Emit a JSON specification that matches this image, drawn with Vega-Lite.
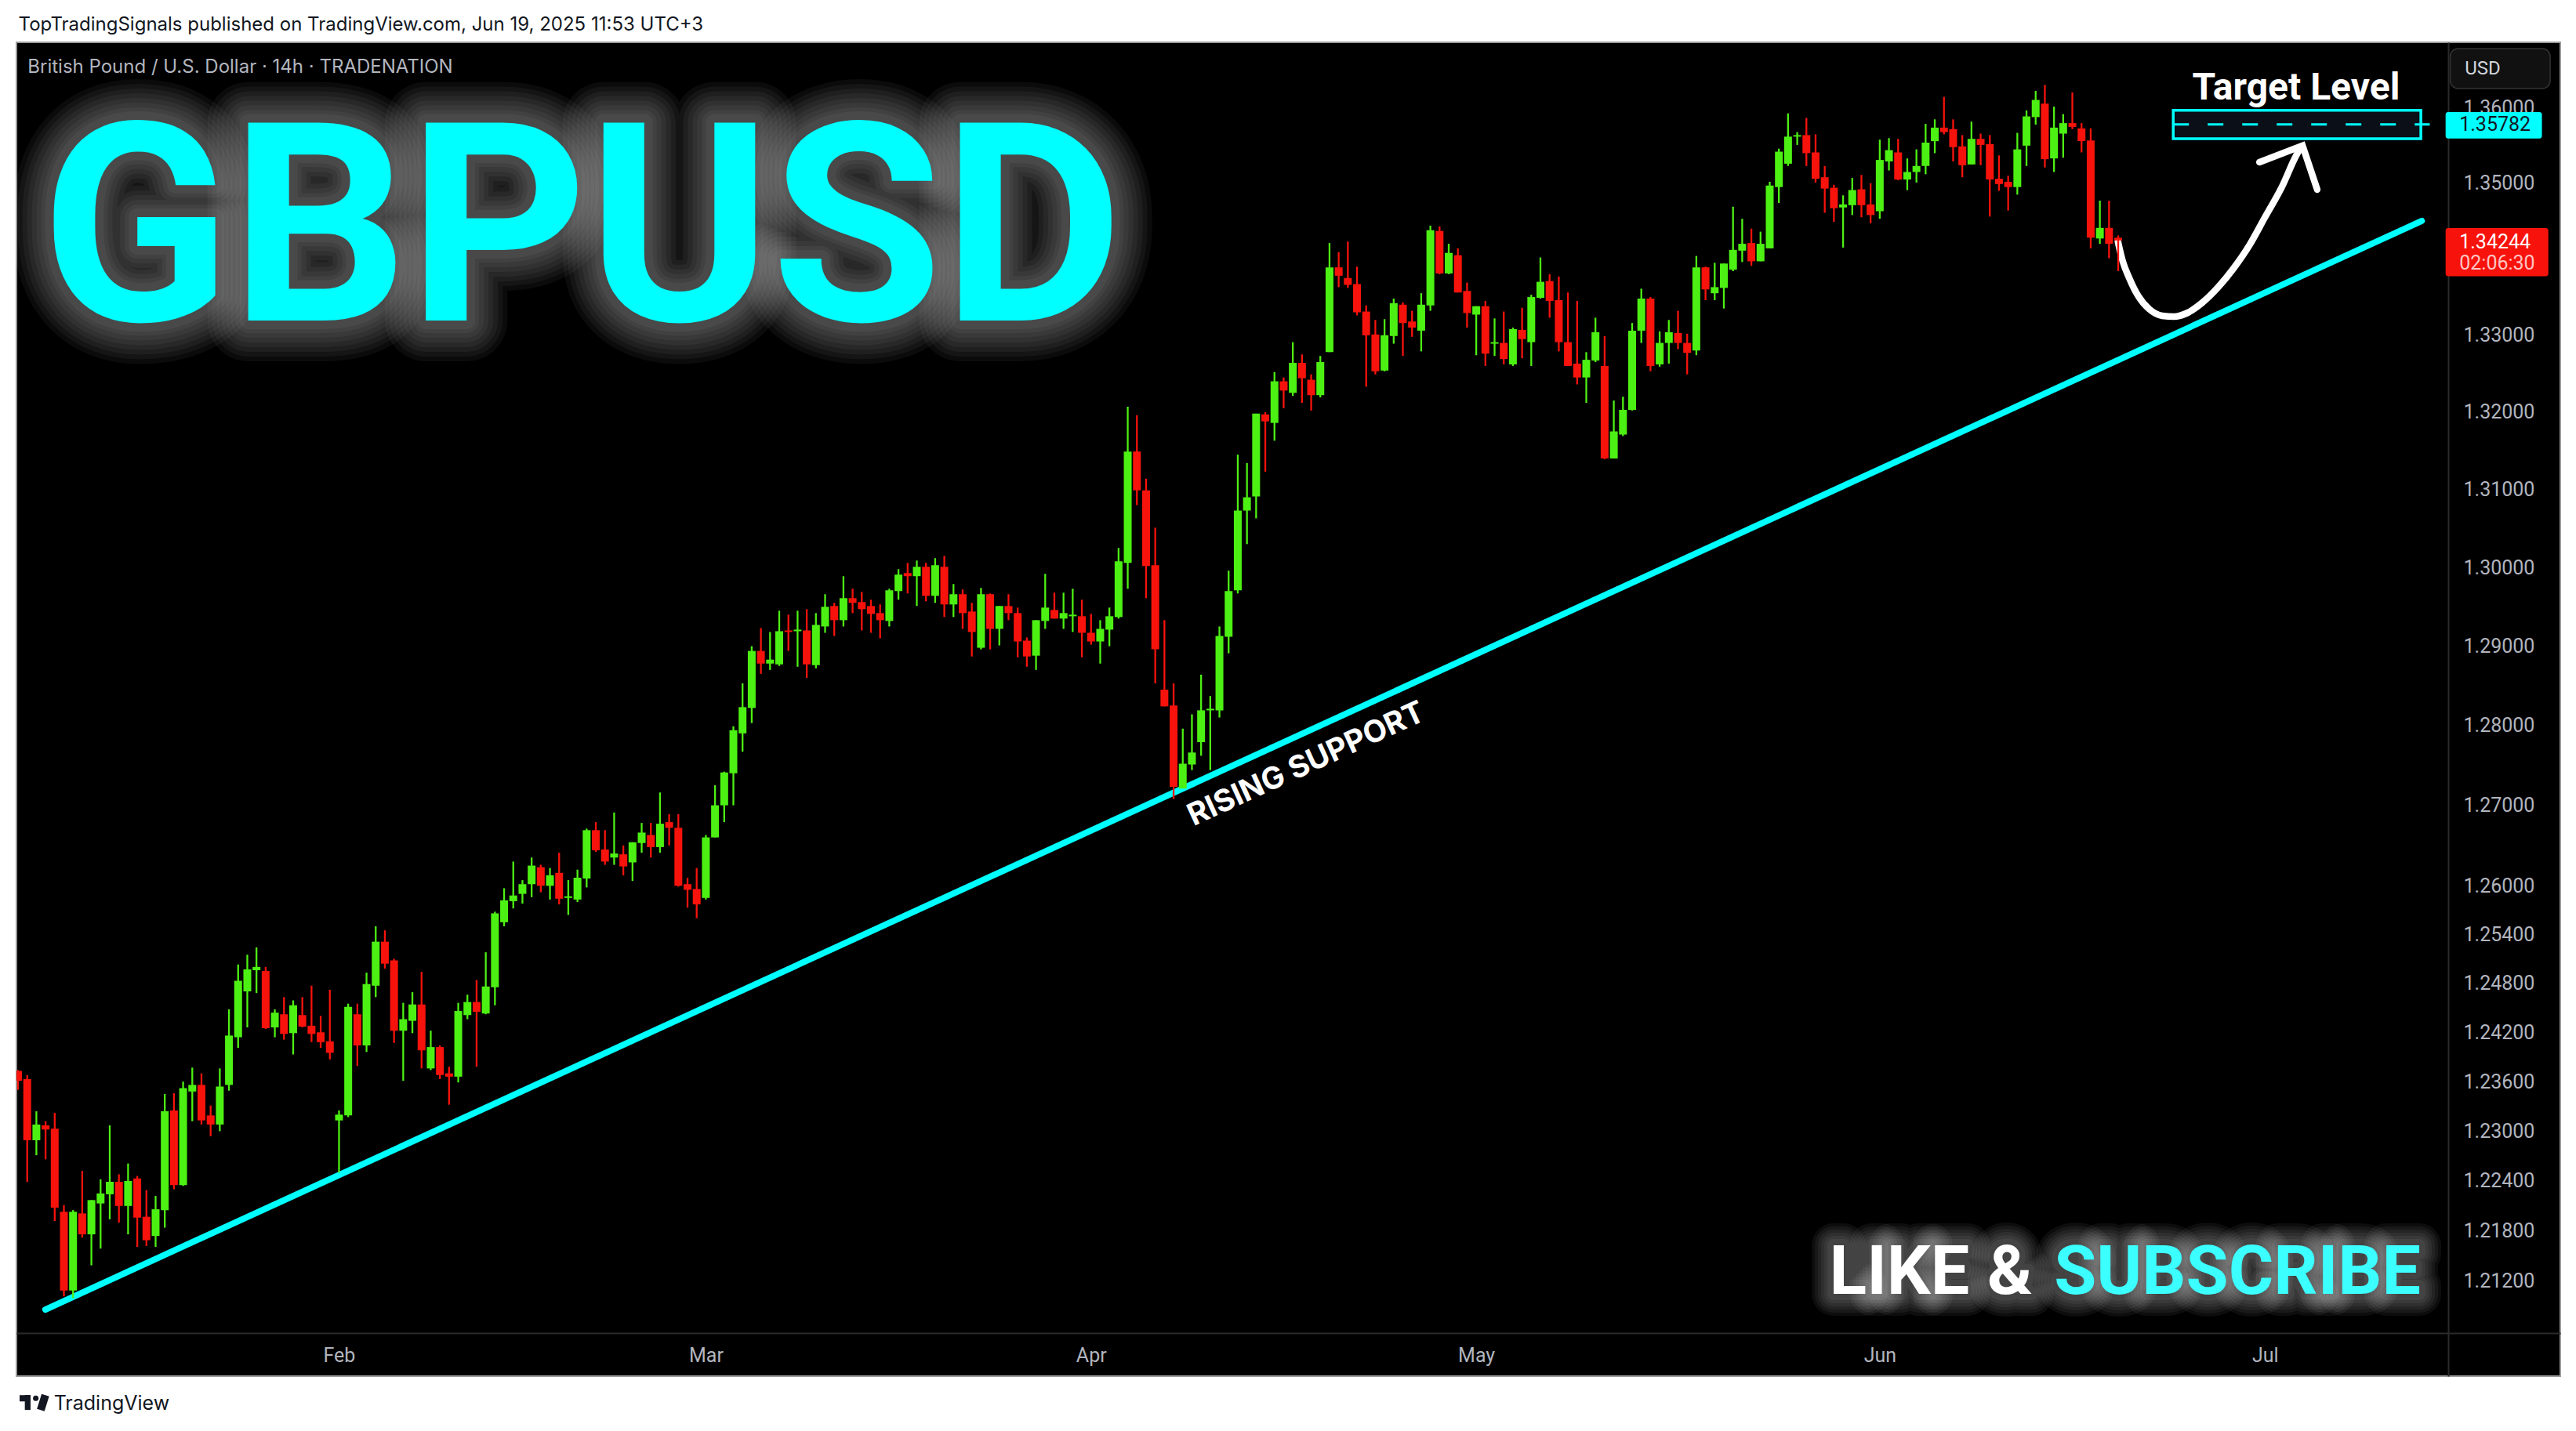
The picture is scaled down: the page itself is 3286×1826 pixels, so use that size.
{"$schema":"https://vega.github.io/schema/vega-lite/v6.json","width":3245,"height":1702,"autosize":"none","padding":{"left":21,"top":54,"right":20,"bottom":70},"background":"#ffffff","view":{"fill":"#000000","stroke":"#9a9a9a","strokeWidth":2},
"datasets":{
"title":[{"bar":61.5,"price":1.33193,"label":"GBPUSD"}],
"like":[{"bar":197.5,"price":1.21051,"label":"LIKE"},{"bar":214.7,"price":1.21051,"label":"&"},{"bar":222.0,"price":1.21051,"label":"SUBSCRIBE"}],
"trend":[{"bar":2.98,"price":1.20864},{"bar":262.1,"price":1.34502}],
"curve":[{"bar":228.97,"price":1.3423},{"bar":229.48,"price":1.33975},{"bar":230.2,"price":1.3375},{"bar":231.2,"price":1.3351},{"bar":232.4,"price":1.3334},{"bar":233.8,"price":1.33255},{"bar":235.1,"price":1.33244},{"bar":236.4,"price":1.33285},{"bar":238.1,"price":1.3342},{"bar":239.9,"price":1.3363},{"bar":241.6,"price":1.3388},{"bar":243.3,"price":1.3418},{"bar":245.0,"price":1.3455},{"bar":246.8,"price":1.3494},{"bar":248.5,"price":1.3539},{"bar":249.0,"price":1.3549}],
"arrow":[{"bar":244.4,"price":1.3528},{"bar":249.1,"price":1.355},{"bar":250.7,"price":1.34917}],
"candles":[
{"bar":0,"open":1.2373,"high":1.2374,"low":1.2350,"close":1.2361},
{"bar":1,"open":1.2363,"high":1.2368,"low":1.2239,"close":1.2289},
{"bar":2,"open":1.2289,"high":1.2324,"low":1.2271,"close":1.2308},
{"bar":3,"open":1.2307,"high":1.2312,"low":1.2266,"close":1.2302},
{"bar":4,"open":1.2303,"high":1.2322,"low":1.2192,"close":1.2208},
{"bar":5,"open":1.2203,"high":1.2211,"low":1.2102,"close":1.2109},
{"bar":6,"open":1.2109,"high":1.2205,"low":1.2100,"close":1.2203},
{"bar":7,"open":1.2201,"high":1.2252,"low":1.2172,"close":1.2176},
{"bar":8,"open":1.2176,"high":1.2217,"low":1.2139,"close":1.2217},
{"bar":9,"open":1.2213,"high":1.2242,"low":1.2159,"close":1.2225},
{"bar":10,"open":1.2224,"high":1.2307,"low":1.2194,"close":1.2239},
{"bar":11,"open":1.2239,"high":1.2248,"low":1.2190,"close":1.2210},
{"bar":12,"open":1.2210,"high":1.2261,"low":1.2176,"close":1.2240},
{"bar":13,"open":1.2243,"high":1.2246,"low":1.2161,"close":1.2196},
{"bar":14,"open":1.2197,"high":1.2229,"low":1.2162,"close":1.2169},
{"bar":15,"open":1.2174,"high":1.2222,"low":1.2161,"close":1.2206},
{"bar":16,"open":1.2205,"high":1.2345,"low":1.2184,"close":1.2324},
{"bar":17,"open":1.2325,"high":1.2346,"low":1.2230,"close":1.2235},
{"bar":18,"open":1.2235,"high":1.2360,"low":1.2234,"close":1.2352},
{"bar":19,"open":1.2348,"high":1.2377,"low":1.2312,"close":1.2356},
{"bar":20,"open":1.2356,"high":1.2370,"low":1.2308,"close":1.2313},
{"bar":21,"open":1.2319,"high":1.2331,"low":1.2294,"close":1.2308},
{"bar":22,"open":1.2308,"high":1.2376,"low":1.2300,"close":1.2354},
{"bar":23,"open":1.2356,"high":1.2448,"low":1.2349,"close":1.2416},
{"bar":24,"open":1.2414,"high":1.2503,"low":1.2401,"close":1.2483},
{"bar":25,"open":1.2470,"high":1.2515,"low":1.2426,"close":1.2497},
{"bar":26,"open":1.2496,"high":1.2524,"low":1.2468,"close":1.2500},
{"bar":27,"open":1.2495,"high":1.2500,"low":1.2424,"close":1.2425},
{"bar":28,"open":1.2426,"high":1.2448,"low":1.2414,"close":1.2444},
{"bar":29,"open":1.2442,"high":1.2463,"low":1.2411,"close":1.2418},
{"bar":30,"open":1.2419,"high":1.2459,"low":1.2393,"close":1.2453},
{"bar":31,"open":1.2441,"high":1.2463,"low":1.2426,"close":1.2427},
{"bar":32,"open":1.2428,"high":1.2477,"low":1.2408,"close":1.2418},
{"bar":33,"open":1.2420,"high":1.2440,"low":1.2401,"close":1.2408},
{"bar":34,"open":1.2409,"high":1.2472,"low":1.2387,"close":1.2395},
{"bar":35,"open":1.2313,"high":1.2325,"low":1.2250,"close":1.2320},
{"bar":36,"open":1.2319,"high":1.2455,"low":1.2317,"close":1.2451},
{"bar":37,"open":1.2442,"high":1.2455,"low":1.2379,"close":1.2404},
{"bar":38,"open":1.2404,"high":1.2493,"low":1.2396,"close":1.2479},
{"bar":39,"open":1.2477,"high":1.2550,"low":1.2463,"close":1.2531},
{"bar":40,"open":1.2531,"high":1.2545,"low":1.2498,"close":1.2504},
{"bar":41,"open":1.2508,"high":1.2510,"low":1.2407,"close":1.2422},
{"bar":42,"open":1.2422,"high":1.2456,"low":1.2361,"close":1.2436},
{"bar":43,"open":1.2434,"high":1.2469,"low":1.2419,"close":1.2454},
{"bar":44,"open":1.2454,"high":1.2494,"low":1.2376,"close":1.2398},
{"bar":45,"open":1.2376,"high":1.2422,"low":1.2374,"close":1.2402},
{"bar":46,"open":1.2402,"high":1.2404,"low":1.2363,"close":1.2368},
{"bar":47,"open":1.2370,"high":1.2378,"low":1.2332,"close":1.2366},
{"bar":48,"open":1.2366,"high":1.2456,"low":1.2359,"close":1.2446},
{"bar":49,"open":1.2441,"high":1.2466,"low":1.2436,"close":1.2457},
{"bar":50,"open":1.2457,"high":1.2484,"low":1.2378,"close":1.2445},
{"bar":51,"open":1.2443,"high":1.2518,"low":1.2442,"close":1.2476},
{"bar":52,"open":1.2475,"high":1.2568,"low":1.2453,"close":1.2566},
{"bar":53,"open":1.2555,"high":1.2597,"low":1.2550,"close":1.2582},
{"bar":54,"open":1.2581,"high":1.2630,"low":1.2572,"close":1.2588},
{"bar":55,"open":1.2590,"high":1.2607,"low":1.2578,"close":1.2602},
{"bar":56,"open":1.2602,"high":1.2635,"low":1.2586,"close":1.2625},
{"bar":57,"open":1.2623,"high":1.2626,"low":1.2592,"close":1.2600},
{"bar":58,"open":1.2600,"high":1.2622,"low":1.2583,"close":1.2613},
{"bar":59,"open":1.2616,"high":1.2641,"low":1.2577,"close":1.2584},
{"bar":60,"open":1.2585,"high":1.2607,"low":1.2564,"close":1.2587},
{"bar":61,"open":1.2583,"high":1.2620,"low":1.2580,"close":1.2610},
{"bar":62,"open":1.2609,"high":1.2671,"low":1.2598,"close":1.2669},
{"bar":63,"open":1.2669,"high":1.2679,"low":1.2642,"close":1.2644},
{"bar":64,"open":1.2645,"high":1.2669,"low":1.2626,"close":1.2630},
{"bar":65,"open":1.2635,"high":1.2691,"low":1.2626,"close":1.2640},
{"bar":66,"open":1.2639,"high":1.2650,"low":1.2613,"close":1.2624},
{"bar":67,"open":1.2629,"high":1.2654,"low":1.2606,"close":1.2654},
{"bar":68,"open":1.2653,"high":1.2678,"low":1.2641,"close":1.2666},
{"bar":69,"open":1.2663,"high":1.2678,"low":1.2635,"close":1.2648},
{"bar":70,"open":1.2648,"high":1.2716,"low":1.2641,"close":1.2677},
{"bar":71,"open":1.2679,"high":1.2689,"low":1.2650,"close":1.2672},
{"bar":72,"open":1.2672,"high":1.2689,"low":1.2599,"close":1.2600},
{"bar":73,"open":1.2602,"high":1.2610,"low":1.2573,"close":1.2595},
{"bar":74,"open":1.2596,"high":1.2622,"low":1.2560,"close":1.2577},
{"bar":75,"open":1.2585,"high":1.2663,"low":1.2583,"close":1.2660},
{"bar":76,"open":1.2660,"high":1.2725,"low":1.2660,"close":1.2700},
{"bar":77,"open":1.2700,"high":1.2742,"low":1.2679,"close":1.2741},
{"bar":78,"open":1.2740,"high":1.2799,"low":1.2700,"close":1.2794},
{"bar":79,"open":1.2790,"high":1.2853,"low":1.2767,"close":1.2823},
{"bar":80,"open":1.2822,"high":1.2900,"low":1.2803,"close":1.2894},
{"bar":81,"open":1.2894,"high":1.2923,"low":1.2865,"close":1.2878},
{"bar":82,"open":1.2878,"high":1.2918,"low":1.2870,"close":1.2883},
{"bar":83,"open":1.2877,"high":1.2945,"low":1.2875,"close":1.2919},
{"bar":84,"open":1.2920,"high":1.2940,"low":1.2894,"close":1.2918},
{"bar":85,"open":1.2919,"high":1.2945,"low":1.2874,"close":1.2921},
{"bar":86,"open":1.2920,"high":1.2947,"low":1.2860,"close":1.2877},
{"bar":87,"open":1.2876,"high":1.2942,"low":1.2872,"close":1.2927},
{"bar":88,"open":1.2925,"high":1.2966,"low":1.2917,"close":1.2950},
{"bar":89,"open":1.2951,"high":1.2955,"low":1.2913,"close":1.2933},
{"bar":90,"open":1.2933,"high":1.2989,"low":1.2925,"close":1.2961},
{"bar":91,"open":1.2961,"high":1.2973,"low":1.2942,"close":1.2955},
{"bar":92,"open":1.2956,"high":1.2969,"low":1.2920,"close":1.2947},
{"bar":93,"open":1.2951,"high":1.2959,"low":1.2917,"close":1.2941},
{"bar":94,"open":1.2942,"high":1.2953,"low":1.2910,"close":1.2933},
{"bar":95,"open":1.2932,"high":1.2973,"low":1.2925,"close":1.2971},
{"bar":96,"open":1.2970,"high":1.2998,"low":1.2959,"close":1.2991},
{"bar":97,"open":1.2993,"high":1.3006,"low":1.2967,"close":1.2989},
{"bar":98,"open":1.2989,"high":1.3009,"low":1.2951,"close":1.3001},
{"bar":99,"open":1.3001,"high":1.3006,"low":1.2957,"close":1.2964},
{"bar":100,"open":1.2964,"high":1.3012,"low":1.2955,"close":1.3003},
{"bar":101,"open":1.3001,"high":1.3015,"low":1.2937,"close":1.2953},
{"bar":102,"open":1.2953,"high":1.2979,"low":1.2937,"close":1.2966},
{"bar":103,"open":1.2966,"high":1.2972,"low":1.2922,"close":1.2942},
{"bar":104,"open":1.2944,"high":1.2955,"low":1.2887,"close":1.2918},
{"bar":105,"open":1.2898,"high":1.2974,"low":1.2896,"close":1.2966},
{"bar":106,"open":1.2966,"high":1.2967,"low":1.2896,"close":1.2922},
{"bar":107,"open":1.2922,"high":1.2951,"low":1.2901,"close":1.2951},
{"bar":108,"open":1.2951,"high":1.2966,"low":1.2933,"close":1.2942},
{"bar":109,"open":1.2942,"high":1.2949,"low":1.2886,"close":1.2906},
{"bar":110,"open":1.2907,"high":1.2911,"low":1.2874,"close":1.2887},
{"bar":111,"open":1.2888,"high":1.2933,"low":1.2870,"close":1.2933},
{"bar":112,"open":1.2932,"high":1.2992,"low":1.2922,"close":1.2949},
{"bar":113,"open":1.2946,"high":1.2968,"low":1.2935,"close":1.2935},
{"bar":114,"open":1.2935,"high":1.2968,"low":1.2922,"close":1.2942},
{"bar":115,"open":1.2938,"high":1.2973,"low":1.2918,"close":1.2940},
{"bar":116,"open":1.2938,"high":1.2959,"low":1.2886,"close":1.2917},
{"bar":117,"open":1.2917,"high":1.2941,"low":1.2902,"close":1.2906},
{"bar":118,"open":1.2906,"high":1.2933,"low":1.2878,"close":1.2922},
{"bar":119,"open":1.2921,"high":1.2949,"low":1.2900,"close":1.2938},
{"bar":120,"open":1.2937,"high":1.3025,"low":1.2935,"close":1.3008},
{"bar":121,"open":1.3006,"high":1.3207,"low":1.2973,"close":1.3149},
{"bar":122,"open":1.3149,"high":1.3196,"low":1.3080,"close":1.3099},
{"bar":123,"open":1.3099,"high":1.3114,"low":1.2961,"close":1.3002},
{"bar":124,"open":1.3003,"high":1.3051,"low":1.2853,"close":1.2896},
{"bar":125,"open":1.2845,"high":1.2933,"low":1.2824,"close":1.2824},
{"bar":126,"open":1.2825,"high":1.2853,"low":1.2708,"close":1.2723},
{"bar":127,"open":1.2721,"high":1.2796,"low":1.2721,"close":1.2752},
{"bar":128,"open":1.2751,"high":1.2814,"low":1.2744,"close":1.2766},
{"bar":129,"open":1.2779,"high":1.2864,"low":1.2762,"close":1.2819},
{"bar":130,"open":1.2819,"high":1.2837,"low":1.2744,"close":1.2821},
{"bar":131,"open":1.2819,"high":1.2925,"low":1.2810,"close":1.2913},
{"bar":132,"open":1.2912,"high":1.2996,"low":1.2891,"close":1.2970},
{"bar":133,"open":1.2971,"high":1.3145,"low":1.2967,"close":1.3073},
{"bar":134,"open":1.3073,"high":1.3134,"low":1.3030,"close":1.3090},
{"bar":135,"open":1.3091,"high":1.3198,"low":1.3063,"close":1.3198},
{"bar":136,"open":1.3197,"high":1.3200,"low":1.3123,"close":1.3188},
{"bar":137,"open":1.3186,"high":1.3252,"low":1.3163,"close":1.3240},
{"bar":138,"open":1.3240,"high":1.3245,"low":1.3205,"close":1.3228},
{"bar":139,"open":1.3225,"high":1.3291,"low":1.3221,"close":1.3264},
{"bar":140,"open":1.3264,"high":1.3275,"low":1.3212,"close":1.3244},
{"bar":141,"open":1.3242,"high":1.3249,"low":1.3202,"close":1.3222},
{"bar":142,"open":1.3222,"high":1.3273,"low":1.3219,"close":1.3265},
{"bar":143,"open":1.3278,"high":1.3421,"low":1.3278,"close":1.3389},
{"bar":144,"open":1.3389,"high":1.3409,"low":1.3363,"close":1.3378},
{"bar":145,"open":1.3375,"high":1.3423,"low":1.3362,"close":1.3366},
{"bar":146,"open":1.3367,"high":1.3390,"low":1.3326,"close":1.3330},
{"bar":147,"open":1.3331,"high":1.3339,"low":1.3233,"close":1.3300},
{"bar":148,"open":1.3301,"high":1.3320,"low":1.3249,"close":1.3253},
{"bar":149,"open":1.3254,"high":1.3321,"low":1.3253,"close":1.3300},
{"bar":150,"open":1.3299,"high":1.3348,"low":1.3289,"close":1.3342},
{"bar":151,"open":1.3340,"high":1.3343,"low":1.3273,"close":1.3316},
{"bar":152,"open":1.3318,"high":1.3332,"low":1.3298,"close":1.3310},
{"bar":153,"open":1.3306,"high":1.3355,"low":1.3279,"close":1.3340},
{"bar":154,"open":1.3339,"high":1.3444,"low":1.3332,"close":1.3438},
{"bar":155,"open":1.3437,"high":1.3443,"low":1.3380,"close":1.3381},
{"bar":156,"open":1.3381,"high":1.3420,"low":1.3380,"close":1.3408},
{"bar":157,"open":1.3405,"high":1.3414,"low":1.3356,"close":1.3356},
{"bar":158,"open":1.3358,"high":1.3369,"low":1.3310,"close":1.3329},
{"bar":159,"open":1.3327,"high":1.3338,"low":1.3274,"close":1.3338},
{"bar":160,"open":1.3338,"high":1.3345,"low":1.3260,"close":1.3276},
{"bar":161,"open":1.3289,"high":1.3322,"low":1.3273,"close":1.3291},
{"bar":162,"open":1.3290,"high":1.3331,"low":1.3262,"close":1.3269},
{"bar":163,"open":1.3262,"high":1.3310,"low":1.3260,"close":1.3308},
{"bar":164,"open":1.3307,"high":1.3336,"low":1.3270,"close":1.3295},
{"bar":165,"open":1.3291,"high":1.3353,"low":1.3260,"close":1.3350},
{"bar":166,"open":1.3349,"high":1.3402,"low":1.3348,"close":1.3370},
{"bar":167,"open":1.3371,"high":1.3380,"low":1.3323,"close":1.3345},
{"bar":168,"open":1.3346,"high":1.3377,"low":1.3279,"close":1.3291},
{"bar":169,"open":1.3291,"high":1.3356,"low":1.3260,"close":1.3260},
{"bar":170,"open":1.3263,"high":1.3345,"low":1.3236,"close":1.3245},
{"bar":171,"open":1.3245,"high":1.3278,"low":1.3212,"close":1.3268},
{"bar":172,"open":1.3267,"high":1.3323,"low":1.3265,"close":1.3304},
{"bar":173,"open":1.3260,"high":1.3299,"low":1.3139,"close":1.3140},
{"bar":174,"open":1.3140,"high":1.3215,"low":1.3140,"close":1.3175},
{"bar":175,"open":1.3171,"high":1.3220,"low":1.3169,"close":1.3203},
{"bar":176,"open":1.3203,"high":1.3316,"low":1.3202,"close":1.3306},
{"bar":177,"open":1.3306,"high":1.3361,"low":1.3290,"close":1.3348},
{"bar":178,"open":1.3348,"high":1.3350,"low":1.3253,"close":1.3260},
{"bar":179,"open":1.3262,"high":1.3305,"low":1.3259,"close":1.3290},
{"bar":180,"open":1.3290,"high":1.3320,"low":1.3263,"close":1.3304},
{"bar":181,"open":1.3303,"high":1.3332,"low":1.3282,"close":1.3290},
{"bar":182,"open":1.3290,"high":1.3302,"low":1.3249,"close":1.3277},
{"bar":183,"open":1.3280,"high":1.3404,"low":1.3274,"close":1.3389},
{"bar":184,"open":1.3389,"high":1.3390,"low":1.3346,"close":1.3360},
{"bar":185,"open":1.3355,"high":1.3395,"low":1.3346,"close":1.3363},
{"bar":186,"open":1.3362,"high":1.3394,"low":1.3335,"close":1.3394},
{"bar":187,"open":1.3386,"high":1.3469,"low":1.3384,"close":1.3412},
{"bar":188,"open":1.3411,"high":1.3453,"low":1.3396,"close":1.3420},
{"bar":189,"open":1.3421,"high":1.3440,"low":1.3391,"close":1.3397},
{"bar":190,"open":1.3397,"high":1.3436,"low":1.3397,"close":1.3420},
{"bar":191,"open":1.3414,"high":1.3502,"low":1.3414,"close":1.3497},
{"bar":192,"open":1.3495,"high":1.3546,"low":1.3474,"close":1.3542},
{"bar":193,"open":1.3526,"high":1.3593,"low":1.3523,"close":1.3562},
{"bar":194,"open":1.3562,"high":1.3568,"low":1.3551,"close":1.3564},
{"bar":195,"open":1.3564,"high":1.3587,"low":1.3523,"close":1.3540},
{"bar":196,"open":1.3541,"high":1.3565,"low":1.3501,"close":1.3506},
{"bar":197,"open":1.3508,"high":1.3523,"low":1.3461,"close":1.3493},
{"bar":198,"open":1.3494,"high":1.3498,"low":1.3449,"close":1.3467},
{"bar":199,"open":1.3468,"high":1.3484,"low":1.3415,"close":1.3472},
{"bar":200,"open":1.3471,"high":1.3507,"low":1.3458,"close":1.3491},
{"bar":201,"open":1.3492,"high":1.3511,"low":1.3455,"close":1.3471},
{"bar":202,"open":1.3472,"high":1.3500,"low":1.3447,"close":1.3458},
{"bar":203,"open":1.3463,"high":1.3558,"low":1.3453,"close":1.3531},
{"bar":204,"open":1.3529,"high":1.3560,"low":1.3517,"close":1.3544},
{"bar":205,"open":1.3541,"high":1.3559,"low":1.3504,"close":1.3505},
{"bar":206,"open":1.3505,"high":1.3533,"low":1.3491,"close":1.3515},
{"bar":207,"open":1.3515,"high":1.3545,"low":1.3501,"close":1.3523},
{"bar":208,"open":1.3523,"high":1.3579,"low":1.3512,"close":1.3554},
{"bar":209,"open":1.3556,"high":1.3585,"low":1.3540,"close":1.3574},
{"bar":210,"open":1.3574,"high":1.3615,"low":1.3565,"close":1.3568},
{"bar":211,"open":1.3572,"high":1.3585,"low":1.3529,"close":1.3548},
{"bar":212,"open":1.3549,"high":1.3564,"low":1.3508,"close":1.3524},
{"bar":213,"open":1.3525,"high":1.3582,"low":1.3525,"close":1.3559},
{"bar":214,"open":1.3559,"high":1.3566,"low":1.3524,"close":1.3551},
{"bar":215,"open":1.3552,"high":1.3564,"low":1.3456,"close":1.3505},
{"bar":216,"open":1.3506,"high":1.3537,"low":1.3490,"close":1.3499},
{"bar":217,"open":1.3502,"high":1.3510,"low":1.3464,"close":1.3495},
{"bar":218,"open":1.3495,"high":1.3567,"low":1.3485,"close":1.3545},
{"bar":219,"open":1.3550,"high":1.3597,"low":1.3523,"close":1.3589},
{"bar":220,"open":1.3588,"high":1.3623,"low":1.3578,"close":1.3611},
{"bar":221,"open":1.3606,"high":1.3631,"low":1.3521,"close":1.3532},
{"bar":222,"open":1.3533,"high":1.3602,"low":1.3515,"close":1.3574},
{"bar":223,"open":1.3566,"high":1.3592,"low":1.3534,"close":1.3580},
{"bar":224,"open":1.3580,"high":1.3621,"low":1.3572,"close":1.3575},
{"bar":225,"open":1.3573,"high":1.3580,"low":1.3541,"close":1.3556},
{"bar":226,"open":1.3557,"high":1.3573,"low":1.3414,"close":1.3428},
{"bar":227,"open":1.3427,"high":1.3477,"low":1.3420,"close":1.3441},
{"bar":228,"open":1.3441,"high":1.3477,"low":1.3401,"close":1.3420},
{"bar":229,"open":1.3428,"high":1.3431,"low":1.3384,"close":1.34244}
]},
"encoding":{
"x":{"field":"bar","type":"quantitative","scale":{"type":"linear","domain":[0.256,276.78],"nice":false,"zero":false},
"axis":{"orient":"bottom","offset":-55,"title":null,"grid":false,"ticks":false,"domain":true,"domainColor":"#2a2a2a","domainWidth":2,"values":[35,75,117,159,203,245],"labelExpr":"{'35':'Feb','75':'Mar','117':'Apr','159':'May','203':'Jun','245':'Jul'}[datum.value]","labelColor":"#b2b5be","labelFont":"Roboto","labelFontSize":25,"labelPadding":28,"labelBaseline":"middle","labelAlign":"center","labelOverlap":false,"labelFlush":false,"labelBound":false}},
"y":{"field":"price","type":"quantitative","scale":{"type":"log","domain":[1.20076,1.36882],"nice":false,"zero":false},
"axis":{"orient":"right","offset":-143,"title":null,"grid":false,"ticks":false,"domain":true,"domainColor":"#2a2a2a","domainWidth":2,"values":[1.36,1.35,1.33,1.32,1.31,1.3,1.29,1.28,1.27,1.26,1.254,1.248,1.242,1.236,1.23,1.224,1.218,1.212],"format":".5f","labelColor":"#b2b5be","labelFont":"Roboto","labelFontSize":25,"labelPadding":19,"labelAlign":"left","labelBaseline":"middle","labelOverlap":false,"labelFlush":false,"labelBound":false}}
},
"layer":[
{"data":{"name":"title"},"mark":{"type":"text","font":"Roboto","fontWeight":"bold","fontSize":355,"align":"center","baseline":"alphabetic","fillOpacity":0,"stroke":"#ffffff","strokeOpacity":0.042,"strokeWidth":104,"strokeJoin":"round"},"encoding":{"text":{"field":"label"}}},
{"data":{"name":"title"},"mark":{"type":"text","font":"Roboto","fontWeight":"bold","fontSize":355,"align":"center","baseline":"alphabetic","fillOpacity":0,"stroke":"#ffffff","strokeOpacity":0.042,"strokeWidth":92,"strokeJoin":"round"},"encoding":{"text":{"field":"label"}}},
{"data":{"name":"title"},"mark":{"type":"text","font":"Roboto","fontWeight":"bold","fontSize":355,"align":"center","baseline":"alphabetic","fillOpacity":0,"stroke":"#ffffff","strokeOpacity":0.042,"strokeWidth":80,"strokeJoin":"round"},"encoding":{"text":{"field":"label"}}},
{"data":{"name":"title"},"mark":{"type":"text","font":"Roboto","fontWeight":"bold","fontSize":355,"align":"center","baseline":"alphabetic","fillOpacity":0,"stroke":"#ffffff","strokeOpacity":0.042,"strokeWidth":68,"strokeJoin":"round"},"encoding":{"text":{"field":"label"}}},
{"data":{"name":"title"},"mark":{"type":"text","font":"Roboto","fontWeight":"bold","fontSize":355,"align":"center","baseline":"alphabetic","fillOpacity":0,"stroke":"#ffffff","strokeOpacity":0.042,"strokeWidth":56,"strokeJoin":"round"},"encoding":{"text":{"field":"label"}}},
{"data":{"name":"title"},"mark":{"type":"text","font":"Roboto","fontWeight":"bold","fontSize":355,"align":"center","baseline":"alphabetic","fillOpacity":0,"stroke":"#ffffff","strokeOpacity":0.042,"strokeWidth":44,"strokeJoin":"round"},"encoding":{"text":{"field":"label"}}},
{"data":{"name":"title"},"mark":{"type":"text","font":"Roboto","fontWeight":"bold","fontSize":355,"align":"center","baseline":"alphabetic","fillOpacity":0,"stroke":"#ffffff","strokeOpacity":0.042,"strokeWidth":32,"strokeJoin":"round"},"encoding":{"text":{"field":"label"}}},
{"data":{"name":"title"},"mark":{"type":"text","font":"Roboto","fontWeight":"bold","fontSize":355,"align":"center","baseline":"alphabetic","fillOpacity":0,"stroke":"#ffffff","strokeOpacity":0.042,"strokeWidth":22,"strokeJoin":"round"},"encoding":{"text":{"field":"label"}}},
{"data":{"name":"title"},"mark":{"type":"text","font":"Roboto","fontWeight":"bold","fontSize":355,"align":"center","baseline":"alphabetic","fill":"#00ffff"},"encoding":{"text":{"field":"label"}}},
{"data":{"name":"like"},"mark":{"type":"text","font":"Roboto","fontWeight":"bold","fontSize":88,"align":"left","baseline":"alphabetic","fillOpacity":0,"stroke":"#ffffff","strokeOpacity":0.05,"strokeWidth":56,"strokeJoin":"round"},"encoding":{"text":{"field":"label"}}},
{"data":{"name":"like"},"mark":{"type":"text","font":"Roboto","fontWeight":"bold","fontSize":88,"align":"left","baseline":"alphabetic","fillOpacity":0,"stroke":"#ffffff","strokeOpacity":0.05,"strokeWidth":48,"strokeJoin":"round"},"encoding":{"text":{"field":"label"}}},
{"data":{"name":"like"},"mark":{"type":"text","font":"Roboto","fontWeight":"bold","fontSize":88,"align":"left","baseline":"alphabetic","fillOpacity":0,"stroke":"#ffffff","strokeOpacity":0.05,"strokeWidth":40,"strokeJoin":"round"},"encoding":{"text":{"field":"label"}}},
{"data":{"name":"like"},"mark":{"type":"text","font":"Roboto","fontWeight":"bold","fontSize":88,"align":"left","baseline":"alphabetic","fillOpacity":0,"stroke":"#ffffff","strokeOpacity":0.05,"strokeWidth":32,"strokeJoin":"round"},"encoding":{"text":{"field":"label"}}},
{"data":{"name":"like"},"mark":{"type":"text","font":"Roboto","fontWeight":"bold","fontSize":88,"align":"left","baseline":"alphabetic","fillOpacity":0,"stroke":"#ffffff","strokeOpacity":0.05,"strokeWidth":24,"strokeJoin":"round"},"encoding":{"text":{"field":"label"}}},
{"data":{"name":"like"},"mark":{"type":"text","font":"Roboto","fontWeight":"bold","fontSize":88,"align":"left","baseline":"alphabetic","fillOpacity":0,"stroke":"#ffffff","strokeOpacity":0.05,"strokeWidth":16,"strokeJoin":"round"},"encoding":{"text":{"field":"label"}}},
{"data":{"name":"like"},"mark":{"type":"text","font":"Roboto","fontWeight":"bold","fontSize":88,"align":"left","baseline":"alphabetic"},"encoding":{"text":{"field":"label"},"color":{"field":"label","type":"nominal","legend":null,"scale":{"domain":["LIKE","&","SUBSCRIBE"],"range":["#ffffff","#ffffff","#3cffff"]}}}},
{"data":{"name":"trend"},"mark":{"type":"line","color":"#00ffff","strokeWidth":8,"strokeCap":"round"}},
{"data":{"name":"curve"},"mark":{"type":"line","color":"#ffffff","strokeWidth":8.5,"strokeCap":"round","interpolate":"monotone"}},
{"data":{"name":"arrow"},"mark":{"type":"line","color":"#ffffff","strokeWidth":8.5,"strokeCap":"round","strokeJoin":"miter"}},
{"data":{"name":"candles"},"mark":{"type":"rule","strokeWidth":2.3,"clip":true},"encoding":{"y":{"field":"high","type":"quantitative","scale":{"type":"log","domain":[1.20076,1.36882],"nice":false,"zero":false},"axis":{"orient":"right","offset":-143,"title":null,"grid":false,"ticks":false,"domain":true,"domainColor":"#2a2a2a","domainWidth":2,"values":[1.36,1.35,1.33,1.32,1.31,1.3,1.29,1.28,1.27,1.26,1.254,1.248,1.242,1.236,1.23,1.224,1.218,1.212],"format":".5f","labelColor":"#b2b5be","labelFont":"Roboto","labelFontSize":25,"labelPadding":19,"labelAlign":"left","labelBaseline":"middle","labelOverlap":false,"labelFlush":false,"labelBound":false}},"y2":{"field":"low"},"color":{"condition":{"test":"datum.close>=datum.open","value":"#4df013"},"value":"#f7130c"}}},
{"data":{"name":"candles"},"mark":{"type":"bar","size":10,"orient":"vertical","clip":true},"encoding":{"y":{"field":"open","type":"quantitative","scale":{"type":"log","domain":[1.20076,1.36882],"nice":false,"zero":false},"axis":{"orient":"right","offset":-143,"title":null,"grid":false,"ticks":false,"domain":true,"domainColor":"#2a2a2a","domainWidth":2,"values":[1.36,1.35,1.33,1.32,1.31,1.3,1.29,1.28,1.27,1.26,1.254,1.248,1.242,1.236,1.23,1.224,1.218,1.212],"format":".5f","labelColor":"#b2b5be","labelFont":"Roboto","labelFontSize":25,"labelPadding":19,"labelAlign":"left","labelBaseline":"middle","labelOverlap":false,"labelFlush":false,"labelBound":false}},"y2":{"field":"close"},"color":{"condition":{"test":"datum.close>=datum.open","value":"#4df013"},"value":"#f7130c"}}},
{"data":{"values":[{"bar":235.0,"bar2":262.0,"price":1.3597,"price2":1.35593}]},"mark":{"type":"rect","fill":"#0a0f18","stroke":"#00ffff","strokeWidth":3.5},"encoding":{"x2":{"field":"bar2"},"y2":{"field":"price2"}}},
{"data":{"values":[{"bar":235.0,"bar2":262.97,"price":1.35782}]},"mark":{"type":"rule","color":"#00ffff","strokeWidth":3,"strokeDash":[20,24]},"encoding":{"x2":{"field":"bar2"}}},
{"data":{"values":[{"bar":265.2,"bar2":276.1,"price":1.36798,"price2":1.36262}]},"mark":{"type":"rect","fill":"#111111","stroke":"#333333","strokeWidth":1.5,"cornerRadius":10},"encoding":{"x2":{"field":"bar2"},"y2":{"field":"price2"}}},
{"data":{"values":[{"bar":264.7,"bar2":275.2,"price":1.35948,"price2":1.35596}]},"mark":{"type":"rect","fill":"#00ffff","cornerRadius":3},"encoding":{"x2":{"field":"bar2"},"y2":{"field":"price2"}}},
{"data":{"values":[{"bar":264.7,"bar2":275.9,"price":1.34408,"price2":1.33772}]},"mark":{"type":"rect","fill":"#f7130c","cornerRadius":3},"encoding":{"x2":{"field":"bar2"},"y2":{"field":"price2"}}},
{"data":{"values":[{"bar":0.05,"price":1.3704,"label":"TopTradingSignals published on TradingView.com, Jun 19, 2025 11:53 UTC+3"}]},"mark":{"type":"text","font":"Inter","fontSize":24,"align":"left","baseline":"alphabetic","fill":"#131722"},"encoding":{"text":{"field":"label"}}},
{"data":{"values":[{"bar":1.05,"price":1.36472,"label":"British Pound / U.S. Dollar · 14h · TRADENATION"}]},"mark":{"type":"text","font":"Inter","fontSize":24,"align":"left","baseline":"alphabetic","fill":"#b2b5be"},"encoding":{"text":{"field":"label"}}},
{"data":{"values":[{"bar":266.8,"price":1.36451,"label":"USD"}]},"mark":{"type":"text","font":"Roboto","fontSize":24,"align":"left","baseline":"alphabetic","fill":"#d1d4dc"},"encoding":{"text":{"field":"label"}}},
{"data":{"values":[{"bar":266.2,"price":1.35693,"label":"1.35782"}]},"mark":{"type":"text","font":"Roboto","fontSize":25,"align":"left","baseline":"alphabetic","fill":"#131722"},"encoding":{"text":{"field":"label"}}},
{"data":{"values":[{"bar":266.2,"price":1.34143,"label":"1.34244"}]},"mark":{"type":"text","font":"Roboto","fontSize":25,"align":"left","baseline":"alphabetic","fill":"#ffffff"},"encoding":{"text":{"field":"label"}}},
{"data":{"values":[{"bar":266.2,"price":1.33862,"label":"02:06:30"}]},"mark":{"type":"text","font":"Roboto","fontSize":25,"align":"left","baseline":"alphabetic","fill":"#ffc4c2"},"encoding":{"text":{"field":"label"}}},
{"data":{"values":[{"bar":248.4,"price":1.36115,"label":"Target Level"}]},"mark":{"type":"text","font":"Roboto","fontSize":48,"fontWeight":"bold","align":"center","baseline":"alphabetic","fill":"#ffffff"},"encoding":{"text":{"field":"label"}}},
{"data":{"values":[{"bar":140.9,"price":1.27407,"label":"RISING SUPPORT"}]},"mark":{"type":"text","font":"Inter","fontSize":39,"fontWeight":700,"angle":335.4,"align":"center","baseline":"alphabetic","fill":"#ffffff"},"encoding":{"text":{"field":"label"}}},
{"data":{"values":[{"bar":3.9,"price":1.19678,"label":"TradingView"}]},"mark":{"type":"text","font":"Inter","fontSize":25,"align":"left","baseline":"alphabetic","fill":"#131722"},"encoding":{"text":{"field":"label"}}},
{"data":{"values":[{"bar":0.17,"bar2":1.364,"price":1.19853,"price2":1.19779},{"bar":0.741,"bar2":1.364,"price":1.19853,"price2":1.19678}]},"mark":{"type":"rect","fill":"#131722"},"encoding":{"x2":{"field":"bar2"},"y2":{"field":"price2"}}},
{"data":{"values":[{"bar":1.934,"price":1.19816}]},"mark":{"type":"point","filled":true,"fill":"#131722","size":50,"opacity":1}},
{"data":{"values":[{"bar":2.98,"price":1.19853},{"bar":2.47,"price":1.19678}]},"mark":{"type":"line","color":"#131722","strokeWidth":10}}
]}
